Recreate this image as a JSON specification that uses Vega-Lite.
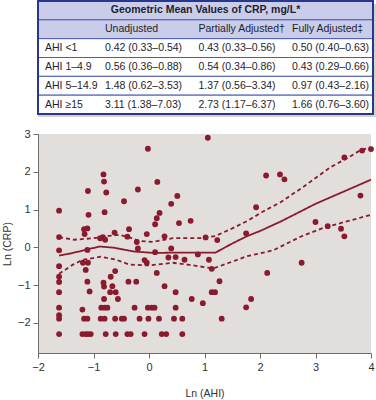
{
  "$schema": "https://vega.github.io/schema/vega-lite/v6.json",
  "autosize": {"type": "pad"},
  "padding": {"left": 2, "top": 0, "right": 0, "bottom": 0},
  "background": "white",
  "bounds": "flush",
  "spacing": 20,
  "config": {
    "font": "Liberation Sans, Arial, sans-serif",
    "view": {"stroke": null}
  },
  "datasets": {
    "rows": [
      {"row": "title"}, {"row": "header"}, {"row": "AHI <1"}, {"row": "AHI 1–4.9"}, {"row": "AHI 5–14.9"}, {"row": "AHI ≥15"}
    ],
    "table": [
      {"row": "title", "col": "title", "text": "Geometric Mean Values of CRP, mg/L*"},
      {"row": "header", "col": "Unadjusted", "text": "Unadjusted"},
      {"row": "header", "col": "Partially Adjusted†", "text": "Partially Adjusted†"},
      {"row": "header", "col": "Fully Adjusted‡", "text": "Fully Adjusted‡"},
      {"row": "AHI <1", "col": "label", "text": "AHI <1"},
      {"row": "AHI <1", "col": "Unadjusted", "text": "0.42 (0.33–0.54)"},
      {"row": "AHI <1", "col": "Partially Adjusted†", "text": "0.43 (0.33–0.56)"},
      {"row": "AHI <1", "col": "Fully Adjusted‡", "text": "0.50 (0.40–0.63)"},
      {"row": "AHI 1–4.9", "col": "label", "text": "AHI 1–4.9"},
      {"row": "AHI 1–4.9", "col": "Unadjusted", "text": "0.56 (0.36–0.88)"},
      {"row": "AHI 1–4.9", "col": "Partially Adjusted†", "text": "0.54 (0.34–0.86)"},
      {"row": "AHI 1–4.9", "col": "Fully Adjusted‡", "text": "0.43 (0.29–0.66)"},
      {"row": "AHI 5–14.9", "col": "label", "text": "AHI 5–14.9"},
      {"row": "AHI 5–14.9", "col": "Unadjusted", "text": "1.48 (0.62–3.53)"},
      {"row": "AHI 5–14.9", "col": "Partially Adjusted†", "text": "1.37 (0.56–3.34)"},
      {"row": "AHI 5–14.9", "col": "Fully Adjusted‡", "text": "0.97 (0.43–2.16)"},
      {"row": "AHI ≥15", "col": "label", "text": "AHI ≥15"},
      {"row": "AHI ≥15", "col": "Unadjusted", "text": "3.11 (1.38–7.03)"},
      {"row": "AHI ≥15", "col": "Partially Adjusted†", "text": "2.73 (1.17–6.37)"},
      {"row": "AHI ≥15", "col": "Fully Adjusted‡", "text": "1.66 (0.76–3.60)"}
    ],
    "points": [
      {"x": -0.02, "y": 2.61}, {"x": -0.82, "y": 1.93}, {"x": -0.81, "y": 1.74}, {"x": -1.10, "y": 1.49},
      {"x": -0.77, "y": 1.45}, {"x": -0.20, "y": 1.53}, {"x": 0.15, "y": 1.73}, {"x": -0.45, "y": 1.22},
      {"x": 0.40, "y": 1.15}, {"x": 0.51, "y": 1.36}, {"x": -1.62, "y": 0.97}, {"x": -1.09, "y": 0.86},
      {"x": -0.80, "y": 0.93}, {"x": 0.19, "y": 0.91}, {"x": 0.14, "y": 0.77}, {"x": 0.11, "y": 0.61},
      {"x": 0.54, "y": 0.64}, {"x": 0.75, "y": 0.70}, {"x": -1.17, "y": 0.48}, {"x": -1.11, "y": 0.50},
      {"x": -1.16, "y": 0.35}, {"x": -0.62, "y": 0.39}, {"x": -0.36, "y": 0.48}, {"x": -1.62, "y": 0.27},
      {"x": -0.88, "y": 0.24}, {"x": -0.83, "y": 0.27}, {"x": -0.79, "y": 0.20}, {"x": -0.39, "y": 0.28},
      {"x": -0.22, "y": 0.14}, {"x": -0.04, "y": 0.35}, {"x": 0.28, "y": 0.29}, {"x": -0.20, "y": -0.03},
      {"x": 0.40, "y": -0.03}, {"x": -1.62, "y": -0.08}, {"x": -1.11, "y": -0.07}, {"x": -0.08, "y": -0.34},
      {"x": -0.04, "y": -0.41}, {"x": 0.11, "y": -0.13}, {"x": 0.35, "y": -0.27}, {"x": 0.48, "y": -0.26},
      {"x": 0.64, "y": -0.33}, {"x": 0.88, "y": -0.19}, {"x": -1.19, "y": -0.41}, {"x": -1.10, "y": -0.41},
      {"x": -1.14, "y": -0.60}, {"x": -1.62, "y": -0.50}, {"x": -0.61, "y": -0.63}, {"x": 0.14, "y": -0.68},
      {"x": -1.62, "y": -0.78}, {"x": -0.69, "y": -0.78}, {"x": -1.62, "y": -0.92}, {"x": -1.11, "y": -0.91},
      {"x": -0.82, "y": -0.94}, {"x": -0.37, "y": -0.91}, {"x": -0.23, "y": -0.91}, {"x": -0.81, "y": -1.04},
      {"x": -0.66, "y": -1.03}, {"x": 0.28, "y": -1.03}, {"x": -1.07, "y": -1.17}, {"x": -0.70, "y": -1.19},
      {"x": -0.60, "y": -1.19}, {"x": -1.62, "y": -1.19}, {"x": 0.48, "y": -1.19}, {"x": 0.77, "y": -1.37},
      {"x": -0.81, "y": -1.37}, {"x": -0.56, "y": -1.37}, {"x": -1.62, "y": -1.60}, {"x": -0.86, "y": -1.60},
      {"x": -0.80, "y": -1.60}, {"x": -0.75, "y": -1.60}, {"x": -0.26, "y": -1.60}, {"x": -0.02, "y": -1.60},
      {"x": 0.05, "y": -1.60}, {"x": 0.10, "y": -1.60}, {"x": 0.48, "y": -1.60}, {"x": -1.20, "y": -1.65},
      {"x": -1.62, "y": -1.80}, {"x": -1.62, "y": -1.89}, {"x": -1.17, "y": -1.89}, {"x": -1.11, "y": -1.89},
      {"x": -0.87, "y": -1.89}, {"x": -0.80, "y": -1.89}, {"x": -0.61, "y": -1.89}, {"x": -0.49, "y": -1.89},
      {"x": -0.45, "y": -1.89}, {"x": -0.17, "y": -1.89}, {"x": -0.01, "y": -1.89}, {"x": 0.18, "y": -1.89},
      {"x": 0.45, "y": -1.89}, {"x": 0.60, "y": -1.89}, {"x": -1.62, "y": -2.30}, {"x": -1.20, "y": -2.30},
      {"x": -1.14, "y": -2.30}, {"x": -1.10, "y": -2.30}, {"x": -1.05, "y": -2.30}, {"x": -0.78, "y": -2.30},
      {"x": -0.60, "y": -2.30}, {"x": -0.39, "y": -2.30}, {"x": -0.33, "y": -2.30}, {"x": -0.08, "y": -2.30},
      {"x": 0.23, "y": -2.30}, {"x": 0.31, "y": -2.30}, {"x": 0.60, "y": -2.30},
      {"x": 1.06, "y": 2.90}, {"x": 3.52, "y": 2.38}, {"x": 3.84, "y": 2.56}, {"x": 4.00, "y": 2.60},
      {"x": 2.11, "y": 1.90}, {"x": 2.36, "y": 1.93}, {"x": 2.44, "y": 1.80}, {"x": 3.81, "y": 1.37},
      {"x": 1.93, "y": 1.06}, {"x": 3.00, "y": 0.67}, {"x": 1.75, "y": 0.37}, {"x": 3.22, "y": 0.56},
      {"x": 3.46, "y": 0.49}, {"x": 3.52, "y": 0.29}, {"x": 1.02, "y": 0.26}, {"x": 1.23, "y": 0.19},
      {"x": 1.08, "y": -0.33}, {"x": 1.13, "y": -0.57}, {"x": 2.75, "y": -0.41}, {"x": 2.13, "y": -0.68},
      {"x": 1.27, "y": -0.90}, {"x": 1.13, "y": -1.19}, {"x": 1.19, "y": -1.19}, {"x": 0.97, "y": -1.48},
      {"x": 1.84, "y": -1.37}, {"x": 1.75, "y": -1.59}, {"x": 1.31, "y": -1.89}
    ],
    "curves": [
      {"series": "fit", "kind": "fit", "x": -1.62, "y": -0.22},
      {"series": "fit", "kind": "fit", "x": -1.4, "y": -0.16},
      {"series": "fit", "kind": "fit", "x": -1.15, "y": -0.07},
      {"series": "fit", "kind": "fit", "x": -0.89, "y": 0.02},
      {"series": "fit", "kind": "fit", "x": -0.64, "y": -0.01},
      {"series": "fit", "kind": "fit", "x": -0.28, "y": -0.11},
      {"series": "fit", "kind": "fit", "x": 0.08, "y": -0.15},
      {"series": "fit", "kind": "fit", "x": 0.56, "y": -0.14},
      {"series": "fit", "kind": "fit", "x": 1.2, "y": -0.14},
      {"series": "fit", "kind": "fit", "x": 1.5, "y": 0.1},
      {"series": "fit", "kind": "fit", "x": 1.76, "y": 0.29},
      {"series": "fit", "kind": "fit", "x": 2.0, "y": 0.43},
      {"series": "fit", "kind": "fit", "x": 2.37, "y": 0.68},
      {"series": "fit", "kind": "fit", "x": 3.0, "y": 1.15},
      {"series": "fit", "kind": "fit", "x": 4.0, "y": 1.79},
      {"series": "upper", "kind": "ci", "x": -1.62, "y": 0.27},
      {"series": "upper", "kind": "ci", "x": -1.35, "y": 0.2},
      {"series": "upper", "kind": "ci", "x": -1.0, "y": 0.24},
      {"series": "upper", "kind": "ci", "x": -0.72, "y": 0.3},
      {"series": "upper", "kind": "ci", "x": -0.53, "y": 0.33},
      {"series": "upper", "kind": "ci", "x": -0.35, "y": 0.26},
      {"series": "upper", "kind": "ci", "x": -0.17, "y": 0.17},
      {"series": "upper", "kind": "ci", "x": 0.07, "y": 0.14},
      {"series": "upper", "kind": "ci", "x": 0.43, "y": 0.24},
      {"series": "upper", "kind": "ci", "x": 0.92, "y": 0.24},
      {"series": "upper", "kind": "ci", "x": 1.2, "y": 0.3},
      {"series": "upper", "kind": "ci", "x": 1.5, "y": 0.5},
      {"series": "upper", "kind": "ci", "x": 1.76, "y": 0.69},
      {"series": "upper", "kind": "ci", "x": 2.12, "y": 1.0},
      {"series": "upper", "kind": "ci", "x": 2.37, "y": 1.19},
      {"series": "upper", "kind": "ci", "x": 2.79, "y": 1.61},
      {"series": "upper", "kind": "ci", "x": 3.27, "y": 2.12},
      {"series": "upper", "kind": "ci", "x": 3.57, "y": 2.36},
      {"series": "upper", "kind": "ci", "x": 3.81, "y": 2.57},
      {"series": "upper", "kind": "ci", "x": 4.0, "y": 2.65},
      {"series": "lower", "kind": "ci", "x": -1.62, "y": -0.7},
      {"series": "lower", "kind": "ci", "x": -1.37, "y": -0.46},
      {"series": "lower", "kind": "ci", "x": -1.19, "y": -0.33},
      {"series": "lower", "kind": "ci", "x": -0.87, "y": -0.25},
      {"series": "lower", "kind": "ci", "x": -0.59, "y": -0.33},
      {"series": "lower", "kind": "ci", "x": -0.35, "y": -0.46},
      {"series": "lower", "kind": "ci", "x": 0.0, "y": -0.48},
      {"series": "lower", "kind": "ci", "x": 0.43, "y": -0.41},
      {"series": "lower", "kind": "ci", "x": 0.7, "y": -0.46},
      {"series": "lower", "kind": "ci", "x": 1.16, "y": -0.56},
      {"series": "lower", "kind": "ci", "x": 1.5, "y": -0.38},
      {"series": "lower", "kind": "ci", "x": 1.76, "y": -0.24},
      {"series": "lower", "kind": "ci", "x": 2.24, "y": -0.08},
      {"series": "lower", "kind": "ci", "x": 2.73, "y": 0.28},
      {"series": "lower", "kind": "ci", "x": 3.15, "y": 0.52},
      {"series": "lower", "kind": "ci", "x": 4.0, "y": 0.86}
    ]
  },
  "vconcat": [
    {
      "width": 335,
      "height": 113,
      "view": {"stroke": null, "fill": null},
      "resolve": {"scale": {"x": "independent"}},
      "layer": [
        {
          "data": {"name": "rows"},
          "mark": {"type": "rect", "color": "#d2d2d2", "xOffset": 3, "x2Offset": 3, "yOffset": 3, "y2Offset": 3},
          "encoding": {
            "y": {"field": "row", "type": "nominal", "axis": null,
              "scale": {"domain": ["title", "header", "AHI <1", "AHI 1–4.9", "AHI 5–14.9", "AHI ≥15"], "paddingInner": 0, "paddingOuter": 0}}
          }
        },
        {
          "data": {"name": "rows"},
          "mark": {"type": "rect", "stroke": "#4a5cb3", "strokeWidth": 1},
          "encoding": {
            "y": {"field": "row", "type": "nominal", "axis": null,
              "scale": {"domain": ["title", "header", "AHI <1", "AHI 1–4.9", "AHI 5–14.9", "AHI ≥15"], "paddingInner": 0, "paddingOuter": 0}},
            "fill": {"condition": {"test": "datum.row === 'title' || datum.row === 'header'", "value": "#c9cdea"}, "value": "#ffffff"}
          }
        },
        {
          "data": {"name": "table"},
          "transform": [{"filter": "datum.col === 'title'"}],
          "mark": {"type": "text", "fontSize": 10.5, "fontWeight": "bold", "color": "#1e1e2e", "align": "center", "baseline": "middle"},
          "encoding": {
            "y": {"field": "row", "type": "nominal", "axis": null,
              "scale": {"domain": ["title", "header", "AHI <1", "AHI 1–4.9", "AHI 5–14.9", "AHI ≥15"], "paddingInner": 0, "paddingOuter": 0}},
            "text": {"field": "text"}
          }
        },
        {
          "data": {"name": "table"},
          "transform": [{"filter": "datum.col === 'label'"}],
          "mark": {"type": "text", "fontSize": 10.5, "color": "#1e1e2e", "align": "left", "baseline": "middle"},
          "encoding": {
            "x": {"field": "col", "type": "nominal", "axis": null, "scale": {"type": "point", "domain": ["label"], "range": [0, 14]}},
            "y": {"field": "row", "type": "nominal", "axis": null,
              "scale": {"domain": ["title", "header", "AHI <1", "AHI 1–4.9", "AHI 5–14.9", "AHI ≥15"], "paddingInner": 0, "paddingOuter": 0}},
            "text": {"field": "text"}
          }
        },
        {
          "data": {"name": "table"},
          "transform": [{"filter": "datum.col !== 'label' && datum.col !== 'title'"}],
          "mark": {"type": "text", "fontSize": 10.5, "color": "#1e1e2e", "align": "left", "baseline": "middle"},
          "encoding": {
            "x": {"field": "col", "type": "nominal", "axis": null,
              "scale": {"type": "point", "domain": ["Unadjusted", "Partially Adjusted†", "Fully Adjusted‡"], "range": [67, 254], "padding": 0}},
            "y": {"field": "row", "type": "nominal", "axis": null,
              "scale": {"domain": ["title", "header", "AHI <1", "AHI 1–4.9", "AHI 5–14.9", "AHI ≥15"], "paddingInner": 0, "paddingOuter": 0}},
            "text": {"field": "text"}
          }
        },
        {
          "data": {"values": [{}]},
          "mark": {"type": "rect", "fill": null, "stroke": "#27378c", "strokeWidth": 2},
          "encoding": {}
        }
      ]
    },
    {
      "width": 333,
      "height": 219,
      "view": {"fill": "#e1dedc", "stroke": null},
      "encoding": {
        "x": {"field": "x", "type": "quantitative",
          "scale": {"domain": [-2, 4], "nice": false, "zero": false},
          "axis": {"title": "Ln (AHI)", "values": [-2, -1, 0, 1, 2, 3, 4], "grid": false,
            "domainColor": "#6b6b6b", "tickColor": "#6b6b6b", "tickSize": 5, "labelPadding": 3,
            "labelFontSize": 11, "labelColor": "#333333", "labelFlush": false,
            "titleFontSize": 10.5, "titleFontWeight": "normal", "titleColor": "#333333", "titlePadding": 16}},
        "y": {"field": "y", "type": "quantitative",
          "scale": {"domain": [-2.8, 3], "nice": false, "zero": false},
          "axis": {"title": "Ln (CRP)", "values": [-2, -1, 0, 1, 2, 3], "grid": false,
            "domainColor": "#6b6b6b", "tickColor": "#6b6b6b", "tickSize": 5, "labelPadding": 3,
            "labelFontSize": 11, "labelColor": "#333333", "labelFlush": false,
            "titleFontSize": 10.5, "titleFontWeight": "normal", "titleColor": "#333333", "titlePadding": 5}}
      },
      "layer": [
        {
          "data": {"name": "curves"},
          "mark": {"type": "line", "color": "#8b1a2e", "strokeWidth": 1.8, "interpolate": "linear"},
          "encoding": {
            "detail": {"field": "series"},
            "strokeDash": {"field": "kind", "type": "nominal", "legend": null,
              "scale": {"domain": ["fit", "ci"], "range": [[1, 0], [4, 3]]}}
          }
        },
        {
          "data": {"name": "points"},
          "mark": {"type": "circle", "color": "#8b1a2e", "size": 34, "opacity": 1}
        }
      ]
    }
  ]
}
